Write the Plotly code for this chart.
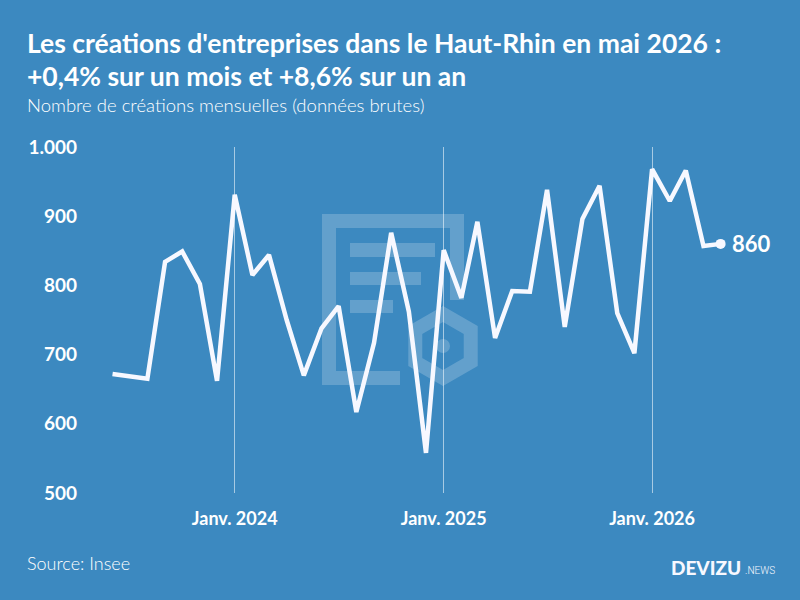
import plotly.graph_objects as go
import math

months = [
    "2023-06-01", "2023-07-01", "2023-08-01", "2023-09-01", "2023-10-01", "2023-11-01", "2023-12-01",
    "2024-01-01", "2024-02-01", "2024-03-01", "2024-04-01", "2024-05-01", "2024-06-01", "2024-07-01",
    "2024-08-01", "2024-09-01", "2024-10-01", "2024-11-01", "2024-12-01",
    "2025-01-01", "2025-02-01", "2025-03-01", "2025-04-01", "2025-05-01", "2025-06-01", "2025-07-01",
    "2025-08-01", "2025-09-01", "2025-10-01", "2025-11-01", "2025-12-01",
    "2026-01-01", "2026-02-01", "2026-03-01", "2026-04-01", "2026-05-01",
]
creations = [
    672, 669, 665, 834, 849, 802, 662,
    931, 815, 844, 750, 670, 738, 770, 617, 717, 876, 762, 558,
    851, 782, 892, 724, 792, 791, 938, 740, 896, 944, 760, 702,
    968, 922, 966, 857, 860,
]
tick_dates = ["2024-01-01", "2025-01-01", "2026-01-01"]
tick_labels = ["Janv. 2024", "Janv. 2025", "Janv. 2026"]
y_ticks = [500, 600, 700, 800, 900, 1000]
y_labels = ["500", "600", "700", "800", "900", "1.000"]

BG = "#3c89c0"
WHITE = "#f7f8ff"
WM = "rgba(255,255,255,0.2)"

L, R, T, B = 80, 40, 147, 107
W, H = 800 - L - R, 600 - T - B


def px(x):
    return (x - L) / W


def py(y):
    return 1 - (y - T) / H


fig = go.Figure()
fig.add_trace(go.Scatter(
    x=months, y=creations, mode="lines",
    line=dict(color=WHITE, width=4.5), hoverinfo="skip",
))
fig.add_trace(go.Scatter(
    x=months[-1:], y=creations[-1:], mode="markers",
    marker=dict(color=WHITE, size=10), hoverinfo="skip",
))

shapes = []


def rect(x0, y0, x1, y1):
    shapes.append(dict(type="rect", xref="paper", yref="paper",
                       x0=px(x0), x1=px(x1), y0=py(y1), y1=py(y0),
                       fillcolor=WM, line=dict(width=0), layer="below"))


# watermark document icon
rect(322, 214, 336, 385)
rect(336, 214, 464, 228)
rect(450, 228, 464, 300)
rect(336, 371, 400, 385)
rect(350, 243, 435, 257)
rect(350, 272, 421, 285)
rect(350, 300, 393, 313)

cx, cy, r = 443, 346, 32
pts = []
for k in range(6):
    a = math.radians(90 + 60 * k)
    pts.append((px(cx + r * math.cos(a)), py(cy - r * math.sin(a))))
path = "M " + " L ".join(f"{a:.5f},{b:.5f}" for a, b in pts) + " Z"
shapes.append(dict(type="path", xref="paper", yref="paper", path=path,
                   line=dict(color=WM, width=14), layer="below"))
shapes.append(dict(type="circle", xref="paper", yref="paper",
                   x0=px(cx - 7), x1=px(cx + 7), y0=py(cy + 7), y1=py(cy - 7),
                   fillcolor=WM, line=dict(width=0), layer="below"))

annotations = [
    dict(text="Les créations d'entreprises dans le Haut-Rhin en mai 2026 :",
         x=px(25), y=py(43), xref="paper", yref="paper", xanchor="left", yanchor="middle",
         showarrow=False, font=dict(family="Lato", size=26.5, color="white", weight=700)),
    dict(text="+0,4% sur un mois et +8,6% sur un an",
         x=px(25), y=py(76), xref="paper", yref="paper", xanchor="left", yanchor="middle",
         showarrow=False, font=dict(family="Lato", size=26.5, color="white", weight=700)),
    dict(text="Nombre de créations mensuelles (données brutes)",
         x=px(25), y=py(105), xref="paper", yref="paper", xanchor="left", yanchor="middle",
         showarrow=False, font=dict(family="Lato", size=18.5, color="white", weight=300)),
    dict(text="Source: Insee",
         x=px(25), y=py(563), xref="paper", yref="paper", xanchor="left", yanchor="middle",
         showarrow=False, font=dict(family="Lato", size=18, color="white", weight=300)),
    dict(text="DEVIZU",
         x=px(743), y=py(567), xref="paper", yref="paper", xanchor="right", yanchor="middle",
         showarrow=False, font=dict(family="Lato", size=19, color=WHITE, weight=900)),
    dict(text=".NEWS",
         x=px(743), y=py(570), xref="paper", yref="paper", xanchor="left", yanchor="middle",
         showarrow=False, font=dict(family="Roboto", size=10, color=WHITE, weight=300)),
    dict(text="860", x=months[-1], y=creations[-1], xref="x", yref="y",
         xanchor="left", yanchor="middle", xshift=9, showarrow=False,
         font=dict(family="Lato", size=22, color="white", weight=700)),
]

fig.update_layout(
    width=800, height=600,
    paper_bgcolor=BG, plot_bgcolor=BG,
    margin=dict(l=L, r=R, t=T, b=B),
    showlegend=False,
    shapes=shapes, annotations=annotations,
    xaxis=dict(
        type="date", range=["2023-04-05", "2026-07-09"],
        tickvals=tick_dates, ticktext=tick_labels,
        showgrid=True, gridcolor="rgba(255,255,255,0.55)", gridwidth=1,
        zeroline=False, showline=False, ticks="",
        tickfont=dict(family="Lato", size=18, color="white", weight=700),
        ticklabelstandoff=13, fixedrange=True,
    ),
    yaxis=dict(
        range=[500, 1000], tickvals=y_ticks, ticktext=y_labels,
        showgrid=False, zeroline=False, showline=False, ticks="",
        tickfont=dict(family="Lato", size=19, color="white", weight=700),
        ticklabelstandoff=2, fixedrange=True,
    ),
)

fig.write_html("out.html", config={"displayModeBar": False})
